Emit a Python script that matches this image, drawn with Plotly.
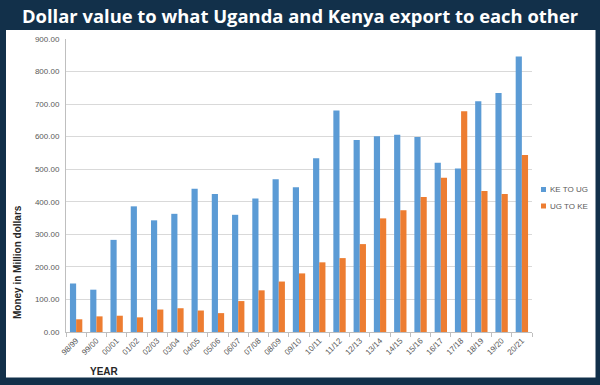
import plotly.graph_objects as go

years = ["98/99", "99/00", "00/01", "01/02", "02/03", "03/04", "04/05", "05/06",
         "06/07", "07/08", "08/09", "09/10", "10/11", "11/12", "12/13", "13/14",
         "14/15", "15/16", "16/17", "17/18", "18/19", "19/20", "20/21"]
ke_to_ug = [149, 130, 283, 386, 343, 363, 440, 424, 360, 410, 469, 445,
            534, 680, 590, 601, 606, 599, 520, 502, 709, 734, 846]
ug_to_ke = [39, 48, 50, 45, 69, 73, 66, 58, 95, 128, 155, 180,
            214, 227, 270, 349, 374, 415, 474, 678, 433, 424, 544]
y_ticks = [0, 100, 200, 300, 400, 500, 600, 700, 800, 900]
series_names = ["KE TO UG", "UG TO KE"]
series_colors = ["#5b9bd5", "#ed7d31"]

NAVY = "#12304a"
FONT = "Liberation Sans"

fig = go.Figure()
for name, vals, col in zip(series_names, [ke_to_ug, ug_to_ke], series_colors):
    fig.add_trace(go.Bar(x=years, y=vals, name=name, marker_color=col,
                         marker_line_width=0))

L, R, T, B = 66, 68, 39, 53
W, H = 600, 385
pw, ph = W - L - R, H - T - B

def px(x):
    return (x - L) / pw

def py(y):
    return (H - B - y) / ph

shapes = [dict(type="rect", xref="paper", yref="paper",
               x0=px(6), x1=px(595.5), y0=py(377.5), y1=py(30),
               fillcolor="white", line_width=0, layer="below")]
annotations = [
    dict(text="<b>Dollar value to what Uganda and Kenya export to each other</b>",
         xref="paper", yref="paper", x=px(300), y=py(16),
         xanchor="center", yanchor="middle", showarrow=False,
         font=dict(family="Open Sans", size=18.4, color="white")),
    dict(text="<b>Money in Million dollars</b>", xref="paper", yref="paper",
         x=px(17), y=py(262), xanchor="center", yanchor="middle",
         showarrow=False, textangle=-90,
         font=dict(family=FONT, size=10, color="#262626")),
    dict(text="<b>YEAR</b>", xref="paper", yref="paper",
         x=px(104.5), y=py(371), xanchor="center", yanchor="middle",
         showarrow=False, font=dict(family=FONT, size=10, color="#262626")),
]

# manual legend (small squares + labels), as in the reference
for i, (name, col) in enumerate(zip(series_names, series_colors)):
    cy = 189.5 + i * 16.5
    shapes.append(dict(type="rect", xref="paper", yref="paper",
                       x0=px(541), x1=px(546), y0=py(cy + 2.5), y1=py(cy - 2.5),
                       fillcolor=col, line_width=0))
    annotations.append(dict(text=name, xref="paper", yref="paper",
                            x=px(548), y=py(cy), xanchor="left", yanchor="middle",
                            showarrow=False,
                            font=dict(family=FONT, size=8, color="#595959")))

fig.update_layout(
    width=W, height=H,
    margin=dict(l=L, r=R, t=T, b=B, pad=0, autoexpand=False),
    paper_bgcolor=NAVY,
    plot_bgcolor="white",
    barmode="group",
    bargap=0.39,
    bargroupgap=0,
    font=dict(family=FONT, size=8, color="#595959"),
    showlegend=False,
    shapes=shapes,
    annotations=annotations,
)

fig.update_xaxes(type="category", showline=True, linecolor="#bfbfbf", linewidth=1,
                 ticks="outside", tickson="boundaries", ticklen=4, tickcolor="#bfbfbf",
                 tickangle=-45, tickfont=dict(family=FONT, size=8, color="#595959"),
                 showgrid=False, automargin=False)
fig.update_yaxes(range=[0, 900], tickvals=y_ticks, tickformat=".2f",
                 showline=True, linecolor="#bfbfbf", linewidth=1,
                 gridcolor="#d9d9d9", gridwidth=1, zeroline=False,
                 ticks="", tickfont=dict(family=FONT, size=8, color="#595959"),
                 ticklabelstandoff=4, automargin=False)

fig.write_html(
    "out.html",
    config={"displayModeBar": False},
    post_script="document.body.style.margin='0';document.body.style.padding='0';"
                "document.body.style.overflow='hidden';",
)
